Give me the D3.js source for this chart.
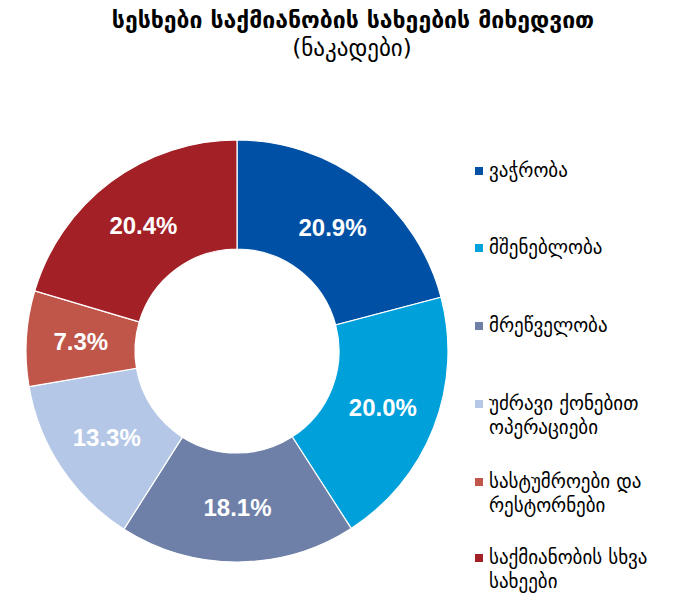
<!DOCTYPE html>
<html lang="ka">
<head>
    <meta charset="UTF-8">
    <script src="https://d3js.org/d3.v7.min.js"></script>
    <title>სესხები საქმიანობის სახეების მიხედვით</title>
    <style>
        body { margin: 0; background: #fff; }
        svg { display: block; }
    </style>
</head>
<body>
    <svg width="674" height="605"></svg>
    <script>
        const categories = [
            ['ვაჭრობა'],
            ['მშენებლობა'],
            ['მრეწველობა'],
            [' უძრავი ქონებით', 'ოპერაციები'],
            ['სასტუმროები და', 'რესტორნები'],
            ['საქმიანობის სხვა', 'სახეები']
        ];
        const shares = [20.9, 20.0, 18.1, 13.3, 7.3, 20.4];
        const colors = ['#0051a5', '#00a0da', '#6e80a8', '#b4c7e7', '#c0564a', '#a32026'];

        const svg = d3.select('svg');
        const cx = 237, cy = 351;
        const outerR = 211, innerR = 102;

        svg.append('text')
            .attr('x', 353).attr('y', 28)
            .attr('text-anchor', 'middle')
            .attr('font-family', 'DejaVu Sans')
            .attr('font-weight', 'bold')
            .attr('font-size', 23)
            .text('სესხები საქმიანობის სახეების მიხედვით');

        svg.append('text')
            .attr('x', 352).attr('y', 56)
            .attr('text-anchor', 'middle')
            .attr('font-family', 'DejaVu Sans')
            .attr('font-size', 23)
            .text('(ნაკადები)');

        const pie = d3.pie().sort(null).value(d => d);
        const arc = d3.arc().innerRadius(innerR).outerRadius(outerR);
        const arcs = pie(shares);

        const g = svg.append('g').attr('transform', `translate(${cx},${cy})`);

        g.selectAll('path')
            .data(arcs)
            .enter().append('path')
            .attr('d', arc)
            .attr('fill', (d, i) => colors[i])
            .attr('stroke', '#fff')
            .attr('stroke-width', 1.2);

        g.selectAll('text')
            .data(arcs)
            .enter().append('text')
            .attr('transform', d => `translate(${arc.centroid(d)})`)
            .attr('text-anchor', 'middle')
            .attr('dy', '0.36em')
            .attr('fill', '#fff')
            .attr('font-family', 'Liberation Sans, Arial, sans-serif')
            .attr('font-weight', 'bold')
            .attr('font-size', 24)
            .text(d => d.data.toFixed(1) + '%');

        const legendY = [171, 248, 326, 404, 482, 558];
        const legend = svg.append('g');
        const items = legend.selectAll('g')
            .data(categories)
            .enter().append('g')
            .attr('transform', (d, i) => `translate(475, ${legendY[i]})`);

        items.append('rect')
            .attr('x', 0).attr('y', -4)
            .attr('width', 8).attr('height', 8)
            .attr('fill', (d, i) => colors[i]);

        items.append('text')
            .attr('font-family', 'DejaVu Sans')
            .attr('font-size', 19)
            .attr('fill', '#000')
            .selectAll('tspan')
            .data(d => d)
            .enter().append('tspan')
            .attr('x', 14)
            .attr('y', (d, i) => i * 24 + 6)
            .text(d => d);
    </script>
</body>
</html>
